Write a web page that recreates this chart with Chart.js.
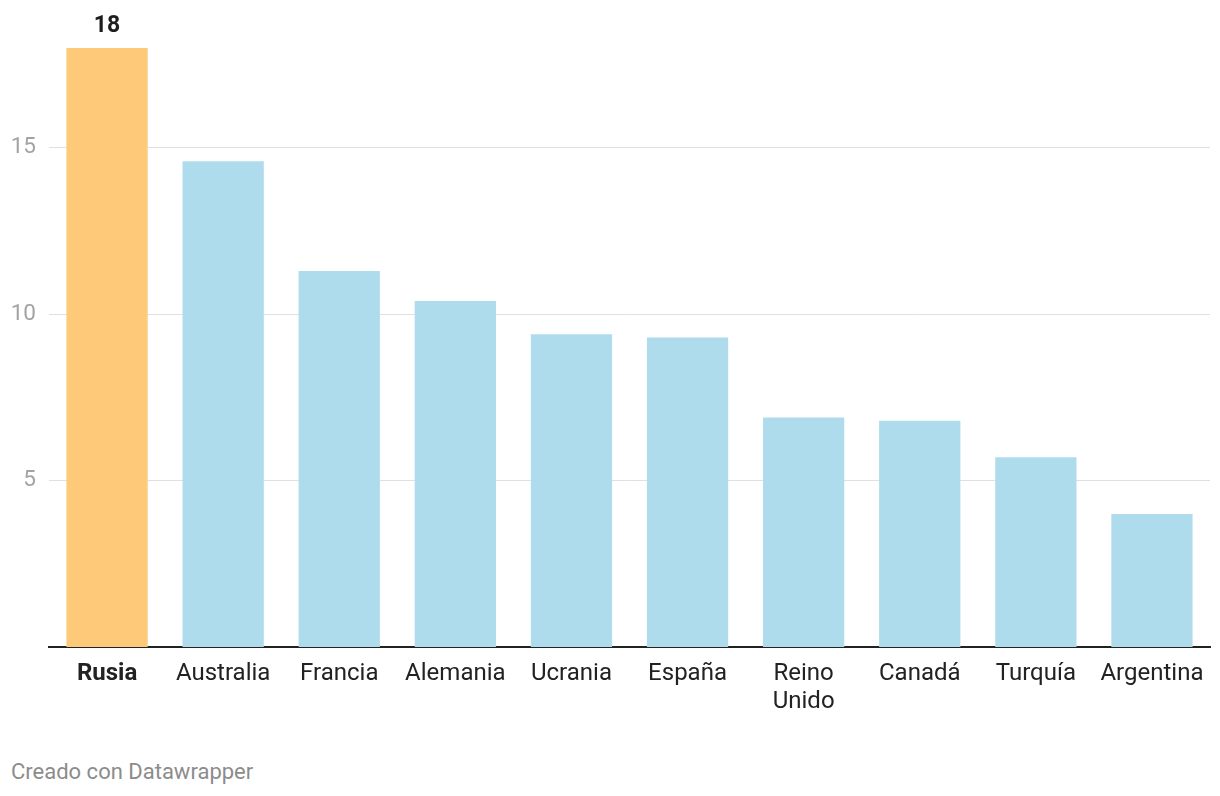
<!DOCTYPE html>
<html>
<head>
<meta charset="utf-8">
<script src="https://cdn.jsdelivr.net/npm/chart.js@4/dist/chart.umd.min.js"></script>
<style>
  html, body { margin: 0; padding: 0; background: #fff; }
  #wrap { position: relative; width: 1220px; height: 740px; }
  #footer { position: absolute; left: 11px; top: 758px; font-family: Roboto, sans-serif; font-size: 22px; line-height: 28px; color: #8c8c8c; }
</style>
</head>
<body>
<div id="wrap"><canvas id="c"></canvas></div>
<div id="footer">Creado con Datawrapper</div>
<script>
const categories = ["Rusia", "Australia", "Francia", "Alemania", "Ucrania", "España", ["Reino", "Unido"], "Canadá", "Turquía", "Argentina"];
const values = [18, 14.6, 11.3, 10.4, 9.4, 9.3, 6.9, 6.8, 5.7, 4.0];
const yTicks = [5, 10, 15];
const highlightIndex = 0;

const barColors = values.map((v, i) => i === highlightIndex ? "#fec979" : "#aedced");

const valueLabelPlugin = {
  id: "valueLabel",
  afterDatasetsDraw(chart) {
    const meta = chart.getDatasetMeta(0);
    const bar = meta.data[highlightIndex];
    const ctx = chart.ctx;
    ctx.save();
    ctx.font = "bold 23px Roboto";
    ctx.fillStyle = "#1d1d1d";
    ctx.textAlign = "center";
    ctx.textBaseline = "middle";
    ctx.fillText(String(values[highlightIndex]), bar.x, bar.y - 22);
    ctx.restore();
  }
};

new Chart(document.getElementById("c"), {
  type: "bar",
  data: {
    labels: categories,
    datasets: [{
      data: values,
      backgroundColor: barColors,
      borderWidth: 0,
      barPercentage: 0.7,
      categoryPercentage: 1.0
    }]
  },
  options: {
    responsive: true,
    maintainAspectRatio: false,
    animation: false,
    layout: { padding: { top: 48, right: 10, left: 0, bottom: 0 } },
    plugins: { legend: { display: false }, tooltip: { enabled: false } },
    scales: {
      x: {
        grid: { display: false, drawTicks: false },
        border: { display: true, color: "#222", width: 2 },
        ticks: {
          color: "#222",
          padding: 13,
          maxRotation: 0,
          autoSkip: false,
          font: (ctx) => ({ family: "Roboto", size: 24, lineHeight: 1.17, weight: ctx.index === highlightIndex ? "bold" : "normal" })
        },
        afterFit: (axis) => { axis.height = 93; }
      },
      y: {
        min: 0,
        max: 18,
        border: { display: false },
        grid: { color: "#e0e0e0", lineWidth: 1, drawTicks: false },
        ticks: {
          color: "#a3a3a3",
          padding: 13,
          font: { family: "Roboto", size: 22.5 }
        },
        afterBuildTicks: (axis) => { axis.ticks = yTicks.map(v => ({ value: v })); },
        afterFit: (axis) => { axis.width = 49; }
      }
    }
  },
  plugins: [valueLabelPlugin]
});
</script>
</body>
</html>
